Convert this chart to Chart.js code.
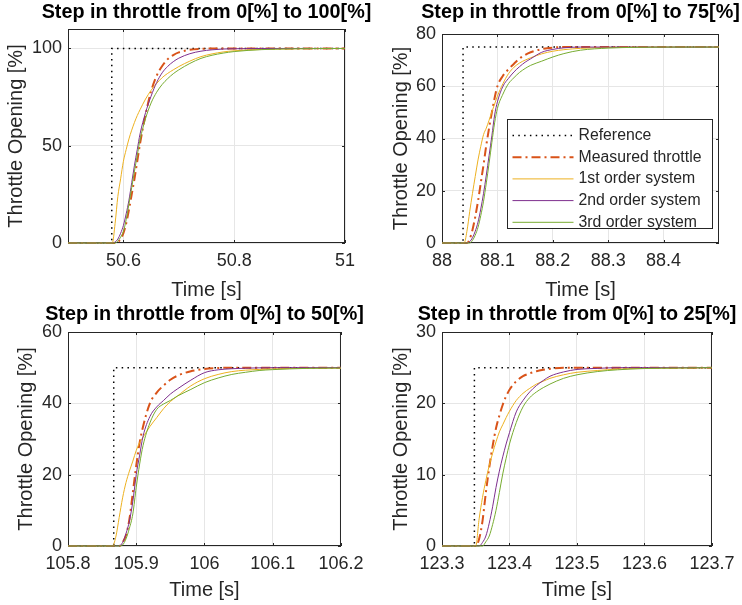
<!DOCTYPE html>
<html>
<head>
<meta charset="utf-8">
<script src="https://cdn.jsdelivr.net/npm/chart.js@4.4.0/dist/chart.umd.min.js"></script>
<style>
  html, body { margin: 0; padding: 0; background: #fff; }
  #fig { position: relative; width: 742px; height: 605px; overflow: hidden; }
  canvas { position: absolute; }
</style>
</head>
<body>
<div id="fig">
  <canvas id="c100" width="371" height="302" style="left:0;top:0"></canvas>
  <canvas id="c75" width="371" height="302" style="left:371px;top:0"></canvas>
  <canvas id="c50" width="371" height="303" style="left:0;top:302px"></canvas>
  <canvas id="c25" width="371" height="303" style="left:371px;top:302px"></canvas>
</div>
<script>
// step 0 -> 100 %
const t100 = [50.5, 50.58, 50.585, 50.59, 50.595, 50.6, 50.605, 50.61, 50.615, 50.62, 50.625, 50.63, 50.64, 50.65, 50.66, 50.67, 50.68, 50.69, 50.7, 50.72, 50.74, 50.76, 50.78, 50.8, 50.85, 50.9, 50.95, 51];
const ref100T = [50.5, 50.579, 51];
const ref100Y = [0, 100, 100];
const meas100 = [0, 0, 0, 0.5, 2, 5, 10, 17, 25, 33, 42, 51, 66, 78, 86, 91, 94.5, 96.6, 98, 99.3, 99.8, 100, 100, 100, 100, 100, 100, 100];
const first100 = [0, 0, 10, 24, 33, 42, 48, 53.5, 58, 62, 65.5, 68.5, 74, 78.5, 82, 85, 87.2, 89, 90.7, 93.5, 95.8, 97.2, 98.2, 98.8, 99.5, 99.8, 99.95, 100];
const second100 = [0, 0, 0.5, 2, 5, 9, 15, 22, 31, 40, 48, 56, 67, 75.5, 82.5, 87.5, 90.8, 93.2, 95, 97.3, 98.6, 99.3, 99.7, 99.85, 100, 100, 100, 100];
const third100 = [0, 0, 0, 1, 3, 6, 12, 20, 28.5, 37, 45, 53, 64, 72, 77.5, 81.5, 84.5, 87, 89, 92.3, 94.9, 96.5, 97.6, 98.4, 99.4, 99.8, 99.95, 100];
const xTicks100 = [50.6, 50.8, 51];
const yTicks100 = [0, 50, 100];

// step 0 -> 75 %
const t75 = [88, 88.04, 88.045, 88.05, 88.055, 88.06, 88.065, 88.07, 88.075, 88.08, 88.085, 88.09, 88.095, 88.1, 88.11, 88.12, 88.13, 88.14, 88.15, 88.16, 88.18, 88.2, 88.22, 88.25, 88.3, 88.35, 88.4, 88.5];
const ref75T = [88, 88.038, 88.5];
const ref75Y = [0, 75, 75];
const meas75 = [0, 0, 0, 1.5, 5, 10, 16, 23, 30, 37.5, 44, 50, 55.5, 60, 64, 66.5, 68.6, 70.6, 72, 73, 74.2, 74.8, 75, 75, 75, 75, 75, 75];
const first75 = [0, 0, 4.5, 12, 19, 25.5, 31.8, 37, 41.5, 44, 47, 50.2, 53.2, 56.2, 61, 64.8, 67.3, 68.9, 70, 70.9, 72.4, 73.4, 74, 74.5, 74.85, 75, 75, 75];
const second75 = [0, 0, 0, 0.5, 2, 4.5, 8, 13, 19, 26, 33.5, 41, 49, 54, 60, 63, 65.5, 67.5, 69.2, 70.5, 73, 74.1, 74.7, 75, 75, 75, 75, 75];
const third75 = [0, 0, 0, 0, 1, 3, 6, 10.5, 16, 23, 30.5, 38.5, 46, 51.5, 57, 61, 63.3, 65.3, 66.8, 68, 69.6, 71.2, 72.5, 73.8, 74.6, 74.9, 75, 75];
const xTicks75 = [88, 88.1, 88.2, 88.3, 88.4];
const yTicks75 = [0, 20, 40, 60, 80];

// step 0 -> 50 %
const t50 = [105.8, 105.865, 105.87, 105.875, 105.88, 105.885, 105.89, 105.895, 105.9, 105.905, 105.91, 105.92, 105.93, 105.94, 105.95, 105.96, 105.98, 106, 106.02, 106.04, 106.06, 106.08, 106.1, 106.15, 106.2];
const ref50T = [105.8, 105.867, 106.2];
const ref50Y = [0, 50, 50];
const meas50 = [0, 0, 0, 0, 1, 3, 7.5, 15, 22.5, 29, 33.5, 40, 43, 45, 46.6, 47.7, 49, 49.6, 49.9, 50, 50, 50, 50, 50, 50];
const first50 = [0, 0, 2.5, 8, 13.5, 17.8, 21, 23.8, 26.8, 29, 30.5, 33.5, 36, 38.5, 40.5, 42, 44.9, 46.9, 48.1, 48.9, 49.3, 49.5, 49.65, 49.85, 49.9];
const second50 = [0, 0, 0, 0, 1, 3.5, 7, 12.5, 20, 25.5, 30.8, 36.3, 39, 40.8, 42.6, 44, 46.5, 48.6, 49.4, 49.7, 49.85, 49.95, 50, 50, 50];
const third50 = [0, 0, 0, 0, 0.3, 2, 5, 9, 16.5, 23, 28.2, 34.5, 38.3, 39.8, 40.8, 42, 43.9, 45.8, 47.1, 48.1, 48.7, 49.2, 49.45, 49.8, 49.9];
const xTicks50 = [105.8, 105.9, 106, 106.1, 106.2];
const yTicks50 = [0, 20, 40, 60];

// step 0 -> 25 %
const t25 = [123.3, 123.345, 123.35, 123.355, 123.36, 123.365, 123.37, 123.375, 123.38, 123.385, 123.39, 123.395, 123.4, 123.41, 123.42, 123.43, 123.44, 123.45, 123.46, 123.48, 123.5, 123.53, 123.56, 123.6, 123.65, 123.7];
const ref25T = [123.3, 123.348, 123.7];
const ref25Y = [0, 25, 25];
const meas25 = [0, 0, 0, 1, 3.5, 7.5, 11, 14, 16.5, 18.3, 19.8, 21, 21.9, 23.1, 23.8, 24.2, 24.5, 24.7, 24.85, 25, 25, 25, 25, 25, 25, 25];
const first25 = [0, 0, 0, 3.8, 6.8, 9.2, 11.3, 13, 14.6, 16, 17, 18, 18.9, 20.4, 21.4, 22.1, 22.7, 23.1, 23.5, 24, 24.35, 24.6, 24.8, 24.9, 24.95, 25];
const second25 = [0, 0, 0, 0, 0.5, 1.4, 3.2, 5.5, 8.2, 10.5, 12.5, 14.3, 15.9, 18.8, 20.4, 21.6, 22.5, 23.2, 23.8, 24.4, 24.75, 24.9, 25, 25, 25, 25];
const third25 = [0, 0, 0, 0, 0, 0.6, 1.4, 3, 5, 7.5, 10.1, 12.3, 14.3, 17.3, 19.5, 20.8, 21.6, 22.2, 22.7, 23.5, 24, 24.45, 24.7, 24.88, 24.95, 25];
const xTicks25 = [123.3, 123.4, 123.5, 123.6, 123.7];
const yTicks25 = [0, 10, 20, 30];

const FONT = "'Liberation Sans', Arial, Helvetica, sans-serif";
const TEXT = "#262626";
const GRID = "#e6e6e6";

function series(t, v) {
  return t.map((x, i) => ({ x: x, y: v[i] }));
}

// box round the axes with inward ticks, like matlab
const axesBox = {
  id: "axesBox",
  beforeDatasetsDraw(chart) {
    const { ctx, chartArea: a, scales } = chart;
    const tl = 3;
    ctx.save();
    ctx.strokeStyle = TEXT;
    ctx.lineWidth = 1;
    ctx.strokeRect(a.left + 0.5, a.top + 0.5, a.right - a.left - 1, a.bottom - a.top - 1);
    ctx.beginPath();
    scales.x.ticks.forEach(t => {
      const px = Math.round(scales.x.getPixelForValue(t.value)) + 0.5;
      ctx.moveTo(px, a.bottom); ctx.lineTo(px, a.bottom - tl);
      ctx.moveTo(px, a.top); ctx.lineTo(px, a.top + tl);
    });
    scales.y.ticks.forEach(t => {
      const py = Math.round(scales.y.getPixelForValue(t.value)) + 0.5;
      ctx.moveTo(a.left, py); ctx.lineTo(a.left + tl, py);
      ctx.moveTo(a.right, py); ctx.lineTo(a.right - tl, py);
    });
    ctx.stroke();
    ctx.restore();
  }
};

// bold title centred over the axes (chart.js title would squeeze it to the area width)
const axesTitle = {
  id: "axesTitle",
  afterDraw(chart, args, opts) {
    const { ctx, chartArea: a } = chart;
    ctx.save();
    ctx.font = "bold 19.8px " + FONT;
    ctx.fillStyle = "#000";
    ctx.textAlign = "center";
    ctx.textBaseline = "middle";
    ctx.fillText(opts.text, (a.left + a.right) / 2, opts.y);
    ctx.restore();
  }
};

// legend box inside the plot area
const innerLegend = {
  id: "innerLegend",
  afterDraw(chart, args, opts) {
    if (!opts.show) return;
    const { ctx, chartArea: a } = chart;
    const w = 205, h = 109;
    const x0 = Math.round(a.right - 7 - w) + 0.5;
    const y0 = Math.round(a.bottom - 15 - h) + 0.5;
    ctx.save();
    ctx.fillStyle = "#fff";
    ctx.fillRect(x0, y0, w, h);
    ctx.strokeStyle = TEXT;
    ctx.lineWidth = 1;
    ctx.strokeRect(x0, y0, w, h);
    ctx.font = "15.8px " + FONT;
    ctx.textBaseline = "middle";
    chart.data.datasets.forEach((ds, i) => {
      const yy = y0 + 16 + i * 21.7;
      ctx.strokeStyle = ds.borderColor;
      ctx.lineWidth = ds.borderWidth;
      ctx.setLineDash(ds.borderDash || []);
      ctx.beginPath();
      ctx.moveTo(x0 + 5, yy);
      ctx.lineTo(x0 + 66, yy);
      ctx.stroke();
      ctx.setLineDash([]);
      ctx.fillStyle = TEXT;
      ctx.fillText(ds.label, x0 + 71, yy);
    });
    ctx.restore();
  }
};

const panels = [
  { id: "c100", title: "Step in throttle from 0[%] to 100[%]", t: t100, refT: ref100T, refY: ref100Y,
    meas: meas100, first: first100, second: second100, third: third100,
    xMin: 50.5, xMax: 51, yMax: 110, xTicks: xTicks100, yTicks: yTicks100,
    yW: 68, padR: 26, padT: 29, titleY: 12.5, xH: 59, yTitlePad: 4.5, xTitlePad: 0, legend: false },
  { id: "c75", title: "Step in throttle from 0[%] to 75[%]", t: t75, refT: ref75T, refY: ref75Y,
    meas: meas75, first: first75, second: second75, third: third75,
    xMin: 88, xMax: 88.5, yMax: 80, xTicks: xTicks75, yTicks: yTicks75,
    yW: 71, padR: 23, padT: 34, titleY: 12.5, xH: 59, yTitlePad: 18, xTitlePad: 0, legend: true },
  { id: "c50", title: "Step in throttle from 0[%] to 50[%]", t: t50, refT: ref50T, refY: ref50Y,
    meas: meas50, first: first50, second: second50, third: third50,
    xMin: 105.8, xMax: 106.2, yMax: 60, xTicks: xTicks50, yTicks: yTicks50,
    yW: 68, padR: 26, padT: 30, titleY: 13, xH: 59, yTitlePad: 14.7, xTitlePad: 3, legend: false },
  { id: "c25", title: "Step in throttle from 0[%] to 25[%]", t: t25, refT: ref25T, refY: ref25Y,
    meas: meas25, first: first25, second: second25, third: third25,
    xMin: 123.3, xMax: 123.7, yMax: 30, xTicks: xTicks25, yTicks: yTicks25,
    yW: 71, padR: 23, padT: 30, titleY: 13, xH: 59, yTitlePad: 18, xTitlePad: 3, legend: false }
];

function makeChart(p) {
  new Chart(document.getElementById(p.id), {
    type: "line",
    data: {
      datasets: [
        { label: "Reference", data: series(p.refT, p.refY), stepped: "before",
          borderColor: "#000000", borderWidth: 1.5, borderDash: [1.5, 4.3], order: 5 },
        { label: "Measured throttle", data: series(p.t, p.meas),
          borderColor: "#D95319", borderWidth: 2, borderDash: [9, 4, 2, 4], order: 4 },
        { label: "1st order system", data: series(p.t, p.first),
          borderColor: "#EDB120", borderWidth: 1, order: 3 },
        { label: "2nd order system", data: series(p.t, p.second),
          borderColor: "#7E2F8E", borderWidth: 1, order: 2 },
        { label: "3rd order system", data: series(p.t, p.third),
          borderColor: "#77AC30", borderWidth: 1, order: 1 }
      ]
    },
    options: {
      responsive: false,
      animation: false,
      elements: {
        point: { radius: 0 },
        line: { cubicInterpolationMode: "monotone", fill: false }
      },
      datasets: { line: { clip: 3 } },
      layout: { padding: { left: 0, top: p.padT, right: p.padR, bottom: 0 } },
      scales: {
        x: {
          type: "linear", min: p.xMin, max: p.xMax,
          afterBuildTicks: s => { s.ticks = p.xTicks.map(v => ({ value: v })); },
          afterFit: s => { s.height = p.xH; },
          grid: { color: GRID, drawTicks: false },
          border: { display: false },
          ticks: { padding: 7.5, autoSkip: false, maxRotation: 0, color: TEXT,
                   font: { family: FONT, size: 18 }, callback: v => String(v) },
          title: { display: true, text: "Time [s]", color: TEXT,
                   font: { family: FONT, size: 20 }, padding: { top: 0, bottom: p.xTitlePad } }
        },
        y: {
          type: "linear", min: 0, max: p.yMax,
          afterBuildTicks: s => { s.ticks = p.yTicks.map(v => ({ value: v })); },
          afterFit: s => { s.width = p.yW; },
          grid: { color: GRID, drawTicks: false },
          border: { display: false },
          ticks: { padding: 6, autoSkip: false, color: TEXT,
                   font: { family: FONT, size: 18 }, callback: v => String(v) },
          title: { display: true, text: "Throttle Opening [%]", color: TEXT,
                   font: { family: FONT, size: 20 }, padding: { top: p.yTitlePad, bottom: 0 } }
        }
      },
      plugins: {
        legend: { display: false },
        tooltip: { enabled: false },
        title: { display: false },
        axesTitle: { text: p.title, y: p.titleY },
        innerLegend: { show: p.legend }
      }
    },
    plugins: [axesBox, axesTitle, innerLegend]
  });
}

panels.forEach(makeChart);
</script>
</body>
</html>
